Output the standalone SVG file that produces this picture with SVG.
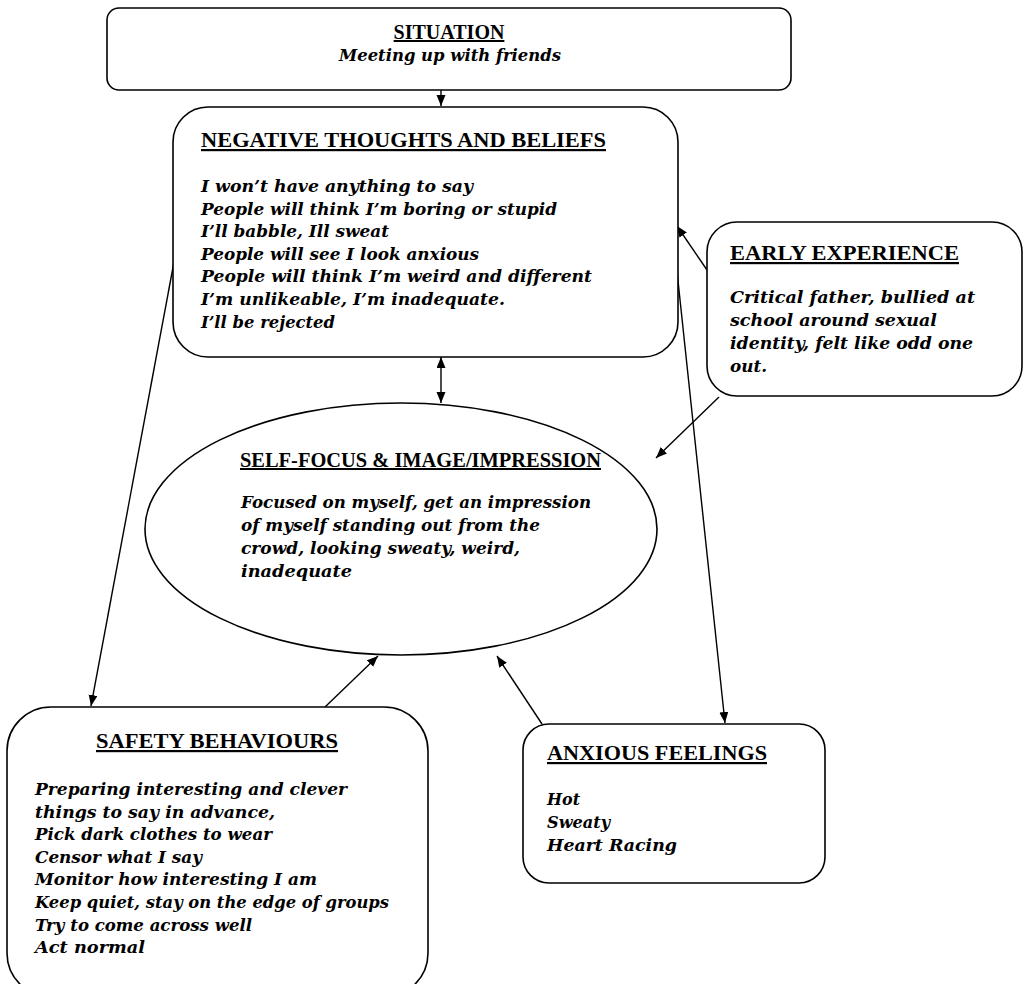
<svg xmlns="http://www.w3.org/2000/svg" width="1024" height="984" viewBox="0 0 1024 984">
<style>
.box{fill:#fff;stroke:#000;stroke-width:1.6}
.hd{font-family:"Liberation Serif","Times New Roman",serif;font-weight:bold;font-size:22px;text-decoration:underline;fill:#000}
.sc{font-family:"DejaVu Serif","Liberation Serif",serif;font-style:italic;font-weight:bold;font-size:16px;fill:#000}
.cn{fill:none;stroke:#000;stroke-width:1.4}
</style>
<defs>
<marker id="ah" markerUnits="userSpaceOnUse" markerWidth="12" markerHeight="10" refX="11" refY="4.5" orient="auto-start-reverse" viewBox="0 0 12 10">
<path d="M0,0 L11,4.5 L0,9 z" fill="#000"/>
</marker>
</defs>
<rect width="1024" height="984" fill="#fff"/>
<g id="connectors">
<path class="cn" d="M441,90 L441,106" marker-end="url(#ah)"/>
<path class="cn" d="M441,357 L441,403" marker-start="url(#ah)" marker-end="url(#ah)"/>
<path class="cn" d="M174,262 L91,706" marker-end="url(#ah)"/>
<path class="cn" d="M676,262 L725,723" marker-end="url(#ah)"/>
<path class="cn" d="M707,270 L677,226" marker-end="url(#ah)"/>
<path class="cn" d="M719,397 L656,458" marker-end="url(#ah)"/>
<path class="cn" d="M325,707 L378,656" marker-end="url(#ah)"/>
<path class="cn" d="M542,724 L497,656" marker-end="url(#ah)"/>
</g>
<g id="situation">
<rect class="box" x="107" y="8" width="684" height="82" rx="12"/>
<text class="hd" x="449" y="39" text-anchor="middle" style="font-size:20px">SITUATION</text>
<text class="sc" x="339" y="61" textLength="222" lengthAdjust="spacingAndGlyphs">Meeting up with friends</text>
</g>
<g id="negative">
<rect class="box" x="173" y="107" width="505" height="250" rx="35"/>
<text class="hd" x="201" y="147" textLength="405" lengthAdjust="spacingAndGlyphs">NEGATIVE THOUGHTS AND BELIEFS</text>
<text class="sc" x="201" y="192" textLength="272" lengthAdjust="spacingAndGlyphs">I won’t have anything to say</text>
<text class="sc" x="201" y="214.6" textLength="356" lengthAdjust="spacingAndGlyphs">People will think I’m boring or stupid</text>
<text class="sc" x="201" y="237.2" textLength="188" lengthAdjust="spacingAndGlyphs">I’ll babble, Ill sweat</text>
<text class="sc" x="201" y="259.8" textLength="278" lengthAdjust="spacingAndGlyphs">People will see I look anxious</text>
<text class="sc" x="201" y="282.4" textLength="391" lengthAdjust="spacingAndGlyphs">People will think I’m weird and different</text>
<text class="sc" x="201" y="305" textLength="304" lengthAdjust="spacingAndGlyphs">I’m unlikeable, I’m inadequate.</text>
<text class="sc" x="201" y="327.6" textLength="134" lengthAdjust="spacingAndGlyphs">I’ll be rejected</text>
</g>
<g id="early">
<rect class="box" x="707" y="222" width="315" height="174" rx="30"/>
<text class="hd" x="730" y="260" textLength="229" lengthAdjust="spacingAndGlyphs">EARLY EXPERIENCE</text>
<text class="sc" x="730" y="303" textLength="245" lengthAdjust="spacingAndGlyphs">Critical father, bullied at</text>
<text class="sc" x="730" y="326" textLength="207" lengthAdjust="spacingAndGlyphs">school around sexual</text>
<text class="sc" x="730" y="349" textLength="243" lengthAdjust="spacingAndGlyphs">identity, felt like odd one</text>
<text class="sc" x="730" y="372" textLength="37" lengthAdjust="spacingAndGlyphs">out.</text>
</g>
<g id="selffocus">
<ellipse class="box" cx="401" cy="529" rx="256" ry="126"/>
<text class="hd" x="240" y="467" textLength="361" lengthAdjust="spacingAndGlyphs" style="font-size:20px">SELF-FOCUS &amp; IMAGE/IMPRESSION</text>
<text class="sc" x="241" y="508" textLength="350" lengthAdjust="spacingAndGlyphs">Focused on myself, get an impression</text>
<text class="sc" x="241" y="531" textLength="299" lengthAdjust="spacingAndGlyphs">of myself standing out from the</text>
<text class="sc" x="241" y="554" textLength="279" lengthAdjust="spacingAndGlyphs">crowd, looking sweaty, weird,</text>
<text class="sc" x="241" y="577" textLength="111" lengthAdjust="spacingAndGlyphs">inadequate</text>
</g>
<g id="safety">
<rect class="box" x="7" y="707" width="421" height="290" rx="44"/>
<text class="hd" x="96" y="748" textLength="242" lengthAdjust="spacingAndGlyphs">SAFETY BEHAVIOURS</text>
<text class="sc" x="35" y="795" textLength="312" lengthAdjust="spacingAndGlyphs">Preparing interesting and clever</text>
<text class="sc" x="35" y="817.6" textLength="240" lengthAdjust="spacingAndGlyphs">things to say in advance,</text>
<text class="sc" x="35" y="840.2" textLength="237" lengthAdjust="spacingAndGlyphs">Pick dark clothes to wear</text>
<text class="sc" x="35" y="862.8" textLength="167" lengthAdjust="spacingAndGlyphs">Censor what I say</text>
<text class="sc" x="35" y="885.4" textLength="282" lengthAdjust="spacingAndGlyphs">Monitor how interesting I am</text>
<text class="sc" x="35" y="908" textLength="354" lengthAdjust="spacingAndGlyphs">Keep quiet, stay on the edge of groups</text>
<text class="sc" x="35" y="930.6" textLength="217" lengthAdjust="spacingAndGlyphs">Try to come across well</text>
<text class="sc" x="35" y="953.2" textLength="110" lengthAdjust="spacingAndGlyphs">Act normal</text>
</g>
<g id="anxious">
<rect class="box" x="523" y="724" width="302" height="159" rx="26"/>
<text class="hd" x="547" y="760" textLength="220" lengthAdjust="spacingAndGlyphs">ANXIOUS FEELINGS</text>
<text class="sc" x="547" y="805" textLength="33" lengthAdjust="spacingAndGlyphs">Hot</text>
<text class="sc" x="547" y="828" textLength="63" lengthAdjust="spacingAndGlyphs">Sweaty</text>
<text class="sc" x="547" y="851" textLength="130" lengthAdjust="spacingAndGlyphs">Heart Racing</text>
</g>
</svg>
